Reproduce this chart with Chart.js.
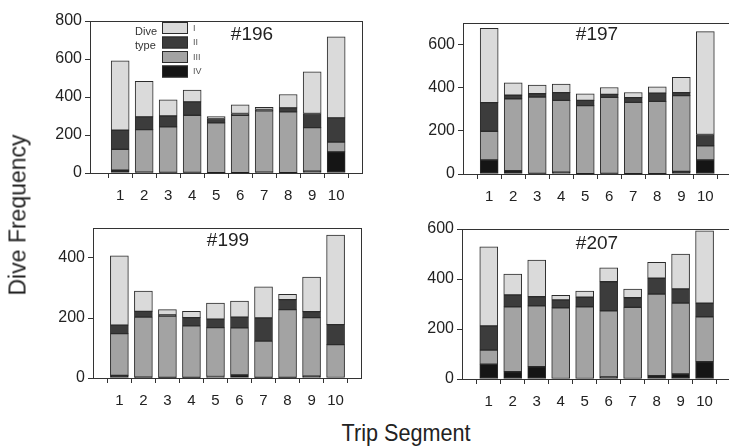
<!DOCTYPE html>
<html>
<head>
<meta charset="utf-8">
<script src="https://cdn.jsdelivr.net/npm/chart.js@4.4.1/dist/chart.umd.min.js"></script>
<style>
  body { margin: 0; width: 729px; height: 446px; overflow: hidden; background: #fff; position: relative; font-family: 'Liberation Sans', Arial, sans-serif; }
  canvas { position: absolute; }
  #ylab { position: absolute; left: 18px; top: 215px; transform: translate(-50%, -50%) rotate(-90deg); font-size: 23px; white-space: nowrap; color: #222; }
  #xlab { position: absolute; left: 406px; top: 433px; transform: translate(-50%, -50%) scaleX(0.9); font-size: 24px; white-space: nowrap; color: #222; }
</style>
</head>
<body>
<canvas id="c196" width="370" height="205" style="left:0px;top:0px"></canvas>
<canvas id="c197" width="370" height="206" style="left:370px;top:0px"></canvas>
<canvas id="c199" width="370" height="205" style="left:0px;top:205px"></canvas>
<canvas id="c207" width="370" height="206" style="left:370px;top:205px"></canvas>
<div id="ylab">Dive Frequency</div>
<div id="xlab">Trip Segment</div>
<script>
// trip segments on the x axis
const segments = [1, 2, 3, 4, 5, 6, 7, 8, 9, 10];
const diveTypes = ['I', 'II', 'III', 'IV'];

// #196
const b196_I   = [365, 188, 85, 62, 10, 46, 12, 70, 220, 427];
const b196_II  = [100, 67, 57, 70, 23, 9, 7, 21, 74, 127];
const b196_III = [110, 223, 240, 301, 262, 302, 322, 320, 229, 52];
const b196_IV  = [15, 5, 3, 3, 2, 2, 5, 2, 10, 111];

// #197
const b197_I   = [344, 58, 40, 40, 31, 32, 24, 29, 71, 477];
const b197_II  = [133, 16, 15, 36, 24, 14, 22, 38, 14, 52];
const b197_III = [133, 334, 354, 333, 315, 352, 330, 335, 351, 66];
const b197_IV  = [65, 15, 3, 8, 2, 3, 2, 2, 12, 65];

// #199
const b199_I   = [231, 68, 18, 21, 54, 53, 104, 18, 115, 298];
const b199_II  = [28, 19, 4, 27, 28, 36, 77, 33, 20, 67];
const b199_III = [139, 200, 204, 172, 163, 157, 121, 226, 195, 111];
const b199_IV  = [9, 3, 2, 2, 5, 10, 2, 2, 6, 0];

// #207
const b207_I   = [317, 84, 147, 19, 25, 56, 35, 64, 140, 290];
const b207_II  = [96, 47, 36, 31, 38, 116, 38, 63, 56, 54];
const b207_III = [57, 260, 244, 283, 287, 265, 285, 327, 284, 180];
const b207_IV  = [59, 29, 49, 2, 2, 8, 2, 13, 20, 69];

const typeColors = { I: '#dadada', II: '#3c3c3c', III: '#a3a3a3', IV: '#151515' };
const edge = '#2b2b2b';

const panelDecor = {
  id: 'panelDecor',
  afterDraw(chart, args, opts) {
    const ctx = chart.ctx;
    const a = chart.chartArea;
    ctx.save();
    ctx.strokeStyle = '#333';
    ctx.lineWidth = 1;
    ctx.strokeRect(Math.round(a.left) + 0.5, Math.round(a.top) + 0.5, Math.round(a.right - a.left), Math.round(a.bottom - a.top));
    ctx.fillStyle = '#222';
    ctx.font = '19px "Liberation Sans", Arial, sans-serif';
    ctx.textAlign = 'center';
    ctx.textBaseline = 'middle';
    ctx.fillText(opts.title, opts.tx, opts.ty);
    if (opts.legend) {
      ctx.font = '11px "Liberation Sans", Arial, sans-serif';
      ctx.textAlign = 'left';
      ctx.fillStyle = '#333';
      ctx.fillText('Dive', 135, 32);
      ctx.fillText('type', 135, 46);
      diveTypes.forEach((t, i) => {
        const y = 22 + i * 14.5;
        ctx.fillStyle = typeColors[t];
        ctx.fillRect(162, y, 26, 12);
        ctx.strokeStyle = edge;
        ctx.strokeRect(162.5, y + 0.5, 25, 11);
        ctx.fillStyle = '#555';
        ctx.font = '9px "Liberation Sans", Arial, sans-serif';
        ctx.fillText(t, 193, y + 6.5);
      });
    }
    ctx.restore();
  }
};

function makePanel(id, title, vals, yMax, xMin, xMax, area, tx, ty, legend) {
  const canvas = document.getElementById(id);
  const order = ['IV', 'III', 'II', 'I'];
  const datasets = order.map(t => ({
    label: t,
    data: segments.map((s, i) => ({ x: s, y: vals[t][i] })),
    backgroundColor: typeColors[t],
    borderColor: edge,
    borderWidth: 1,
    borderSkipped: false,
    barThickness: 18
  }));
  return new Chart(canvas.getContext('2d'), {
    type: 'bar',
    data: { datasets: datasets },
    options: {
      responsive: false,
      animation: false,
      devicePixelRatio: 1,
      layout: {
        padding: { left: 0, top: area.top, right: canvas.width - area.right, bottom: 0 }
      },
      scales: {
        x: {
          type: 'linear',
          stacked: true,
          min: xMin,
          max: xMax,
          afterFit: s => { s.height = canvas.height - area.bottom; },
          ticks: { stepSize: 1, includeBounds: false, color: '#222', padding: 9, font: { family: 'Liberation Sans', size: 15 } },
          grid: { drawOnChartArea: false, drawTicks: true, tickLength: 5, color: '#333' },
          border: { display: true, color: '#333' }
        },
        y: {
          stacked: true,
          min: 0,
          max: yMax,
          afterFit: s => { s.width = area.left; },
          ticks: { stepSize: 200, includeBounds: false, color: '#222', padding: 3, font: { family: 'Liberation Sans', size: 16 } },
          grid: { drawOnChartArea: false, drawTicks: true, tickLength: 5, color: '#333' },
          border: { display: true, color: '#333' }
        }
      },
      plugins: {
        legend: { display: false },
        tooltip: { enabled: false },
        panelDecor: { title: title, tx: tx, ty: ty, legend: legend }
      }
    },
    plugins: [panelDecor]
  });
}

makePanel('c196', '#196', { I: b196_I, II: b196_II, III: b196_III, IV: b196_IV }, 800, 0.31, 10.51,
  { left: 90, top: 21, right: 362, bottom: 173 }, 252, 35, true);
makePanel('c197', '#197', { I: b197_I, II: b197_II, III: b197_III, IV: b197_IV }, 700, 0.476, 10.67,
  { left: 93, top: 23, right: 365, bottom: 174 }, 227, 35, false);
makePanel('c199', '#199', { I: b199_I, II: b199_II, III: b199_III, IV: b199_IV }, 500, 0.46, 10.5,
  { left: 93, top: 23, right: 361, bottom: 173 }, 228, 36, false);
makePanel('c207', '#207', { I: b207_I, II: b207_II, III: b207_III, IV: b207_IV }, 600, 0.453, 10.70,
  { left: 92, top: 24, right: 365, bottom: 174 }, 227, 39, false);
</script>
</body>
</html>
